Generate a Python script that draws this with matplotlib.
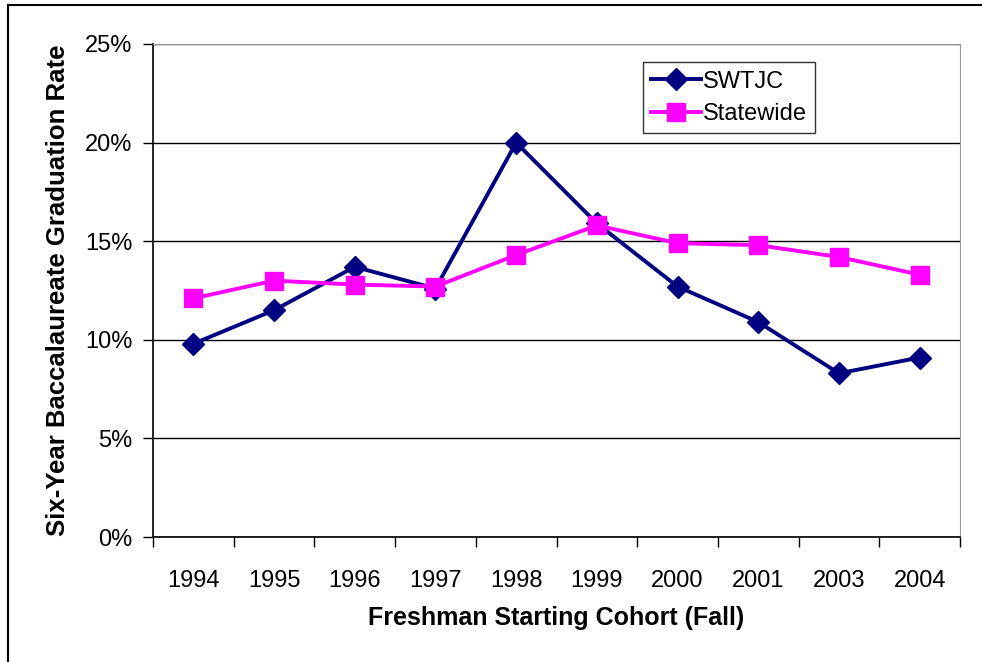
import matplotlib

matplotlib.use("Agg")
import matplotlib.pyplot as plt  # noqa: E402
from matplotlib.lines import Line2D  # noqa: E402
from matplotlib.ticker import FuncFormatter  # noqa: E402

years = ["1994", "1995", "1996", "1997", "1998", "1999", "2000", "2001", "2003", "2004"]
swtjc = [9.8, 11.5, 13.7, 12.6, 20.0, 15.9, 12.7, 10.9, 8.3, 9.1]
statewide = [12.1, 13.0, 12.8, 12.7, 14.3, 15.8, 14.9, 14.8, 14.2, 13.3]
y_ticks = [0, 5, 10, 15, 20, 25]

plt.rcParams["font.family"] = ["Liberation Sans", "DejaVu Sans"]

fig = plt.figure(figsize=(9.82, 6.62), dpi=100)
ax = fig.add_axes([153 / 982, 125 / 662, 807 / 982, 493 / 662])

x = list(range(len(years)))
ax.plot(x, swtjc, color="#000080", lw=2.8, marker="D", ms=11, label="SWTJC", zorder=3)
ax.plot(x, statewide, color="#ff00ff", lw=2.8, marker="s", ms=13, label="Statewide", zorder=4)

ax.set_xlim(-0.5, len(years) - 0.5)
ax.set_ylim(0, 25)
ax.set_yticks(y_ticks)
ax.yaxis.set_major_formatter(FuncFormatter(lambda v, _: f"{v:.0f}%"))
ax.set_xticks(x)
ax.set_xticklabels(years)
ax.set_xticks([i - 0.5 for i in range(len(years) + 1)], minor=True)
ax.tick_params(axis="x", which="major", length=0, pad=24, labelsize=17)
ax.tick_params(axis="x", which="minor", length=7, width=1, direction="out")
ax.tick_params(axis="y", length=7, width=1, direction="out", pad=8, labelsize=17)

ax.grid(axis="y", color="black", lw=1)
ax.set_axisbelow(True)
for side in ("top", "right"):
    ax.spines[side].set_color("#999999")
for side in ("left", "bottom"):
    ax.spines[side].set_color("black")
    ax.spines[side].set_linewidth(1.2)

ax.set_xlabel("Freshman Starting Cohort (Fall)", fontsize=18, fontweight="bold", labelpad=10)
ax.set_ylabel("Six-Year Baccalaureate Graduation Rate", fontsize=18.5, fontweight="bold", labelpad=11)

leg = ax.legend(loc="upper left", bbox_to_anchor=(0.607, 0.963), borderaxespad=0, fontsize=17,
                frameon=True, fancybox=False, handlelength=2.1, borderpad=0.35,
                labelspacing=0.45, handletextpad=0.1)
leg.get_frame().set_edgecolor("black")
leg.get_frame().set_linewidth(1)

# outer chart border (top and left edges visible)
fig.add_artist(Line2D([7.5 / 982, 1], [1 - 5 / 662, 1 - 5 / 662], color="black", lw=1.5))
fig.add_artist(Line2D([7.5 / 982, 7.5 / 982], [0, 1 - 5 / 662], color="black", lw=1.5))

fig.savefig("out.png", dpi=100)
